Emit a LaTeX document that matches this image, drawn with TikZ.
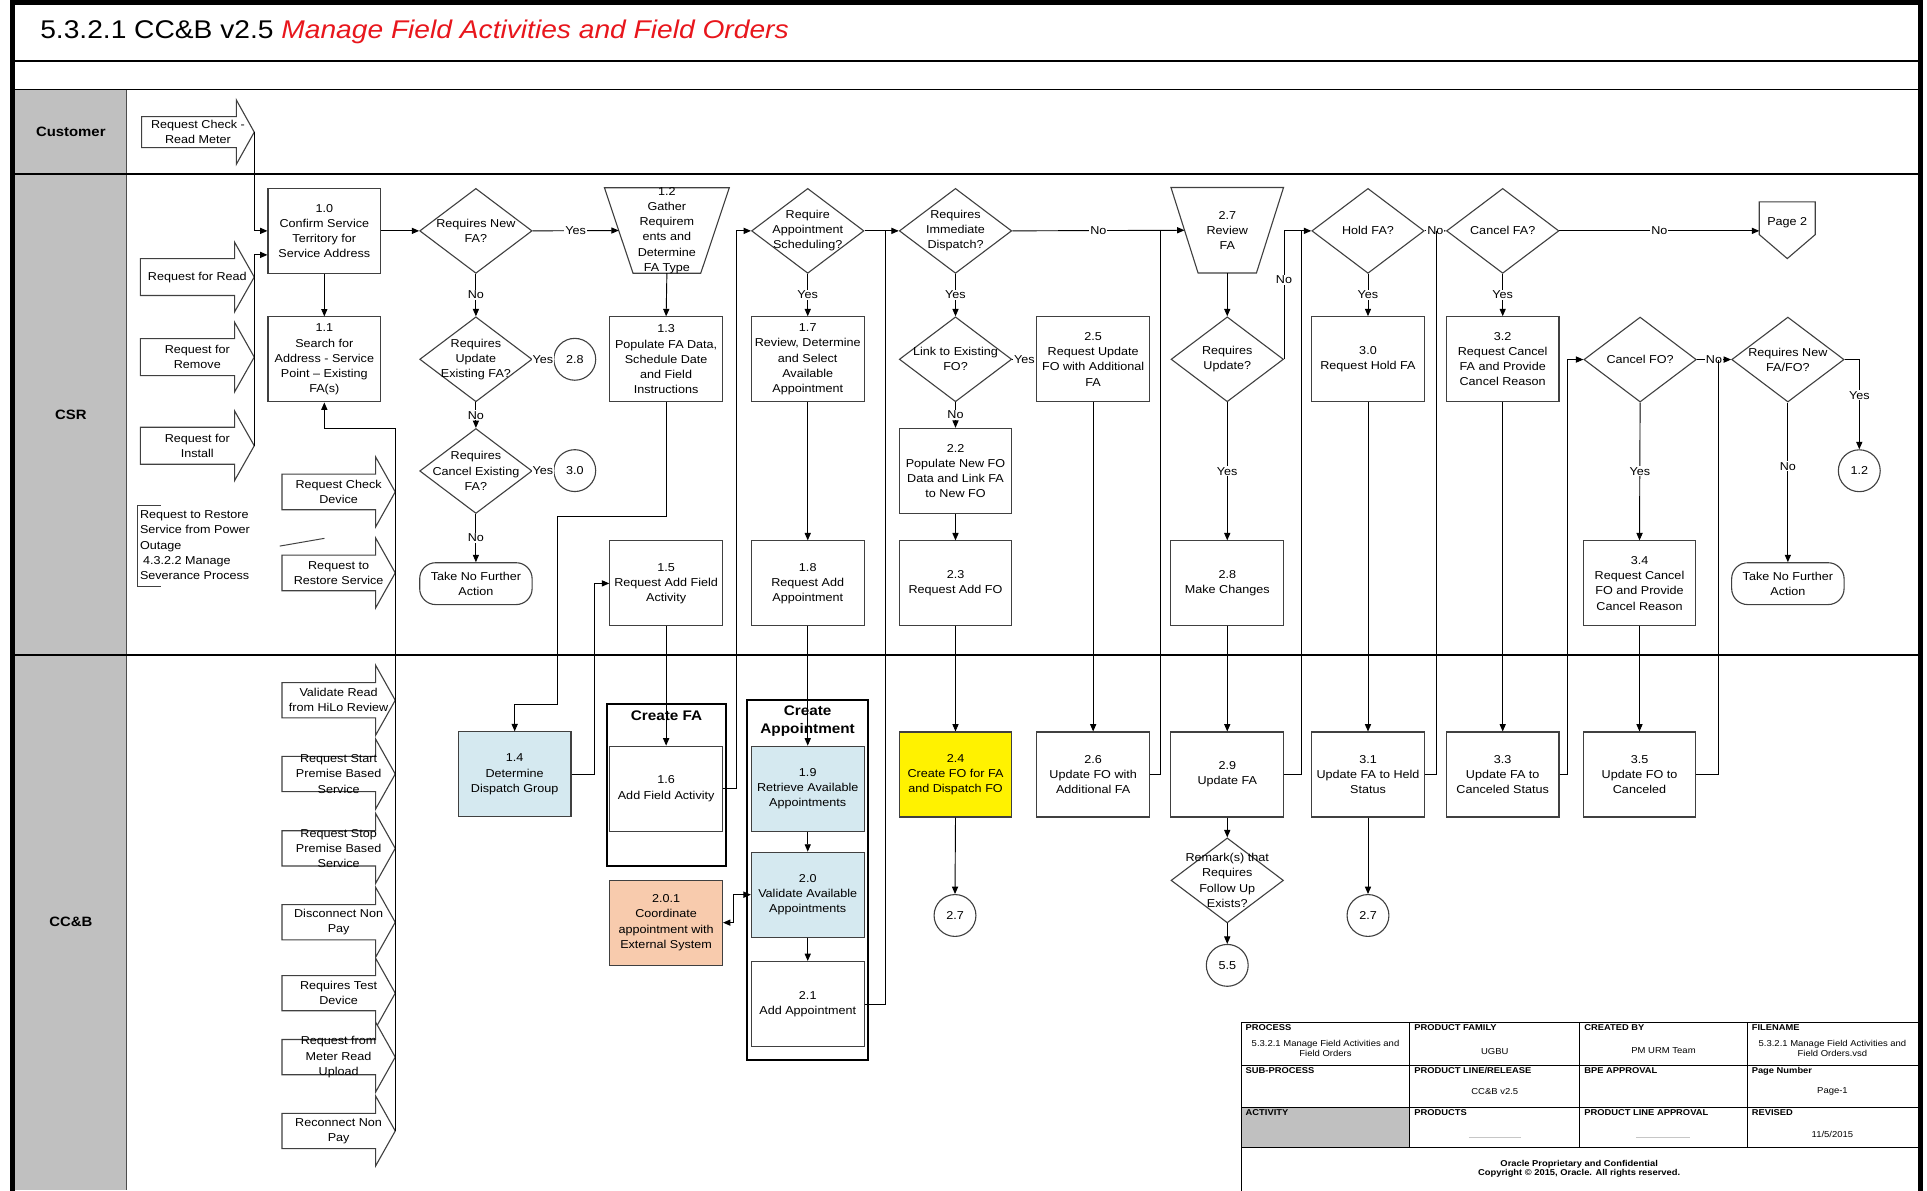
\documentclass[tikz,border=0pt]{standalone}
\usepackage{fontspec}
\setmainfont{Liberation Sans}[FakeStretch=1.1]
\usetikzlibrary{shapes.geometric,arrows.meta,calc}

\definecolor{lanegray}{RGB}{192,192,192}
\definecolor{boxline}{RGB}{64,64,64}
\definecolor{ltblue}{RGB}{213,233,240}
\definecolor{peach}{RGB}{248,203,173}
\definecolor{titlered}{RGB}{232,22,28}

\newcommand{\boxfnt}{\fontsize{9.3}{12.3}\selectfont}
\newcommand{\titlefnt}{\fontsize{20.8}{25}\selectfont}
\newcommand{\lanefnt}{\fontsize{11}{13}\selectfont\bfseries}
\newcommand{\grpfnt}{\fontsize{11.3}{15.4}\selectfont\bfseries}
\newcommand{\theadfnt}{\fontsize{6.9}{8}\selectfont\bfseries}
\newcommand{\tcellfnt}{\fontsize{7}{8.2}\selectfont}
\newcommand{\tfootfnt}{\fontsize{6.9}{7.4}\selectfont\bfseries}

% name, x1, x2, xtip, y, body half height, head half height, text
\newcommand{\blockarr}[8]{%
  \draw[barrow] (#2,#5-#6) -- (#3,#5-#6) -- (#3,#5-#7) -- (#4,#5) -- (#3,#5+#7) -- (#3,#5+#6) -- (#2,#5+#6) -- cycle;
  \node[btxt] (#1) at ({(#2+#4)/2},#5) {#8};
  \coordinate (#1tip) at (#4,#5);
}

\begin{document}
\begin{tikzpicture}[x=1pt,y=-1pt,
  shapeline/.style={draw=boxline, line width=0.9pt},
  pbox/.style={shapeline, fill=white, minimum width=91.5pt, minimum height=69pt, inner sep=1pt, align=center, font=\boxfnt},
  dia/.style={shapeline, fill=white, diamond, minimum width=91.3pt, minimum height=69pt, inner sep=0pt},
  dtxt/.style={align=center, font=\boxfnt, inner sep=0pt},
  circ/.style={shapeline, fill=white, circle, minimum size=34pt, inner sep=0pt, font=\boxfnt},
  term/.style={shapeline, fill=white, rounded corners=13pt, minimum width=91.3pt, minimum height=34pt, inner sep=0pt, align=center, font=\boxfnt},
  trapbox/.style={minimum height=69pt, inner sep=0pt},
  conn/.style={draw=black, line width=0.75pt},
  arr/.style={conn, -{Triangle[length=6pt,width=5pt]}},
  arrboth/.style={conn, {Triangle[length=6pt,width=5pt]}-{Triangle[length=6pt,width=5pt]}},
  lbl/.style={fill=white, inner sep=0.8pt, font=\boxfnt},
  barrow/.style={shapeline, fill=white},
  btxt/.style={align=center, font=\boxfnt, inner sep=0pt},
  grp/.style={draw=black, line width=1.8pt},
  grptitle/.style={font=\grpfnt, align=center, inner sep=0pt},
  lanelbl/.style={font=\lanefnt, inner sep=0pt},
  thead/.style={font=\theadfnt, anchor=north west, inner sep=0pt},
  tcell/.style={font=\tcellfnt, align=center, inner sep=0pt},
  tline/.style={draw=black, line width=0.8pt},
]
\useasboundingbox (0,0) rectangle (1565,966.5);

% ---------- frame and lanes ----------
\fill[lanegray] (12.4,72.7) rectangle (103,966.5);
\draw[gray!60!black, line width=0.8pt] (103,72.7) -- (103,966.5);
\draw[line width=1pt] (12,49.6) -- (1557.4,49.6);
\draw[line width=1pt] (12,72.7) -- (1557.4,72.7);
\draw[line width=1.3pt] (12,141.3) -- (1557.4,141.3);
\draw[line width=1.3pt] (12,531.8) -- (1557.4,531.8);
\draw[line width=4.5pt] (10.2,970) -- (10.2,2.2) -- (1559.7,2.2) -- (1559.7,970);

\node[anchor=base west, font=\titlefnt, inner sep=0pt] (title) at (32.5,31)
  {5.3.2.1 CC\&B v2.5 \textcolor{titlered}{\itshape Manage Field Activities and Field Orders}};

\node[lanelbl] (lcust) at (57.5,107) {Customer};
\node[lanelbl] (lcsr) at (57.5,336.5) {CSR};
\node[lanelbl] (lccb) at (57.5,749) {CC\&B};

% ---------- block arrows ----------
\blockarr{bCust}{115}{192}{206.5}{107.3}{12.6}{26}{Request Check -\\Read Meter}
\blockarr{bRead}{114}{190.5}{206.5}{225}{15}{28.3}{Request for Read}
\blockarr{bRemove}{114}{190.5}{206.5}{290}{15}{28.3}{Request for\\Remove}
\blockarr{bInstall}{114}{190.5}{206.5}{362}{15}{28.3}{Request for\\Install}
\blockarr{bChk}{229}{305}{321}{399.5}{14.5}{28.5}{Request Check\\Device}
\blockarr{bRestore}{229}{305}{321}{465.3}{14.5}{28.5}{Request to\\Restore Service}
\blockarr{bValid}{229}{305}{321}{568.7}{14.3}{28.5}{Validate Read\\from HiLo Review}
\blockarr{bStart}{229}{305}{321}{628.6}{14.3}{28.5}{Request Start\\Premise Based\\Service}
\blockarr{bStop}{229}{305}{321}{689}{14.3}{28.5}{Request Stop\\Premise Based\\Service}
\blockarr{bDisc}{229}{305}{321}{749}{14.3}{28.5}{Disconnect Non\\Pay}
\blockarr{bTest}{229}{305}{321}{806.6}{14.3}{28.5}{Requires Test\\Device}
\blockarr{bMeter}{229}{305}{321}{858.5}{14.3}{28.5}{Request from\\Meter Read\\Upload}
\blockarr{bRecon}{229}{305}{321}{918.5}{14.3}{28.5}{Reconnect Non\\Pay}

% annotation
\draw[boxline, line width=0.8pt] (130.5,410.2) -- (111.7,410.2) -- (111.7,476.6) -- (130.5,476.6);
\node[font=\boxfnt, align=left, anchor=west, inner sep=0pt] (note) at (113.5,442.8)
  {Request to Restore\\Service from Power\\Outage\\\hspace*{2.5pt}4.3.2.2 Manage\\Severance Process};
\draw[boxline, line width=0.8pt] (227.2,443.5) -- (263.5,437.2);

% ---------- CSR lane ----------
\node[pbox] (n10) at (263.4,187.5) {1.0\\Confirm Service\\Territory for\\Service Address};
\node[pbox] (n11) at (263.4,291.9) {1.1\\Search for\\Address - Service\\Point – Existing\\FA(s)};

\node[dia] (d1) at (386.5,187.5) {};
\node[dtxt] (d1t) at (d1.center) {Requires New\\FA?};
\node[dia] (d2) at (386.5,291.8) {};
\node[dtxt] (d2t) at (d2.center) {Requires\\Update\\Existing FA?};
\node[dia] (d3) at (386.5,382.5) {};
\node[dtxt] (d3t) at (d3.center) {Requires\\Cancel Existing\\FA?};
\node[circ] (c28) at (466.8,291.8) {2.8};
\node[circ] (c30) at (466.8,382.2) {3.0};
\node[term] (tn1) at (386.5,474) {Take No Further\\Action};

% 1.2 trapezoid
\node[trapbox, minimum width=77.8pt] (t12) at (541.6,187.2) {};
\draw[shapeline, fill=white] ($(t12.north west)+(-11.6,0)$) -- ($(t12.north east)+(11.6,0)$)
  -- ($(t12.south east)+(-11.6,0)$) -- ($(t12.south west)+(11.6,0)$) -- cycle;
\node[dtxt] (t12t) at (t12.center) {1.2\\Gather\\Requirem\\ents and\\Determine\\FA Type};

\node[pbox] (n13) at (541,291.8) {1.3\\Populate FA Data,\\Schedule Date\\and Field\\Instructions};
\node[pbox] (n15) at (541,473.8) {1.5\\Request Add Field\\Activity};

\node[dia] (d4) at (656,187.5) {};
\node[dtxt] (d4t) at (d4.center) {Require\\Appointment\\Scheduling?};
\node[pbox] (n17) at (656,291.8) {1.7\\Review, Determine\\and Select\\Available\\Appointment};
\node[pbox] (n18) at (656,473.8) {1.8\\Request Add\\Appointment};

\node[dia] (d5) at (776,187.5) {};
\node[dtxt] (d5t) at (d5.center) {Requires\\Immediate\\Dispatch?};
\node[dia] (d6) at (776,291.8) {};
\node[dtxt] (d6t) at (d6.center) {Link to Existing\\FO?};
\node[pbox] (n22) at (776,382.4) {2.2\\Populate New FO\\Data and Link FA\\to New FO};
\node[pbox] (n23) at (776,473.8) {2.3\\Request Add FO};
\node[pbox] (n25) at (887.8,291.8) {2.5\\Request Update\\FO with Additional\\FA};

% 2.7 trapezoid
\node[trapbox, minimum width=69pt] (t27) at (996.7,187) {};
\draw[shapeline, fill=white] ($(t27.north west)+(-11,0)$) -- ($(t27.north east)+(11,0)$)
  -- ($(t27.south east)+(-11,0)$) -- ($(t27.south west)+(11,0)$) -- cycle;
\node[dtxt] (t27t) at (t27.center) {2.7\\Review\\FA};

\node[dia] (d7) at (996.7,291.8) {};
\node[dtxt] (d7t) at (d7.center) {Requires\\Update?};
\node[pbox] (n28) at (996.7,473.8) {2.8\\Make Changes};

\node[dia] (d8) at (1111,187.5) {};
\node[dtxt] (d8t) at (d8.center) {Hold FA?};
\node[pbox] (n30) at (1111,291.7) {3.0\\Request Hold FA};
\node[dia] (d10) at (1220.4,187.5) {};
\node[dtxt] (d10t) at (d10.center) {Cancel FA?};
\node[pbox] (n32) at (1220.4,291.7) {3.2\\Request Cancel\\FA and Provide\\Cancel Reason};

% Page 2 off-page connector
\coordinate (pg2) at (1451.5,164);
\draw[shapeline, fill=white] ($(pg2)+(-22.75,0)$) -- ($(pg2)+(22.75,0)$) -- ($(pg2)+(22.75,26.5)$)
  -- ($(pg2)+(0,46)$) -- ($(pg2)+(-22.75,26.5)$) -- cycle;
\node[dtxt] (pg2t) at (1451.5,181) {Page 2};
\coordinate (pg2w) at (1428.75,187.5);

\node[dia] (d11) at (1332,292) {};
\node[dtxt] (d11t) at (d11.center) {Cancel FO?};
\node[pbox] (n34) at (1331.5,473.8) {3.4\\Request Cancel\\FO and Provide\\Cancel Reason};
\node[dia] (d12) at (1452,292) {};
\node[dtxt] (d12t) at (d12.center) {Requires New\\FA/FO?};
\node[circ] (c12) at (1510,382.3) {1.2};
\node[term] (tn2) at (1452,474) {Take No Further\\Action};

% ---------- CC&B lane ----------
\node[pbox, fill=ltblue] (n14) at (418,628.9) {1.4\\Determine\\Dispatch Group};

\draw[grp] (493,571.5) rectangle (589.5,703);
\node[grptitle] (gfa) at (541.3,581.4) {Create FA};
\node[pbox] (n16) at (541,640.5) {1.6\\Add Field Activity};
\node[pbox, fill=peach] (n201) at (541,749.3) {2.0.1\\Coordinate\\appointment with\\External System};

\draw[grp] (606.9,568.8) rectangle (704.8,861.1);
\node[grptitle] (gap) at (655.9,585.6) {Create\\Appointment};
\node[pbox, fill=ltblue] (n19) at (656,640.5) {1.9\\Retrieve Available\\Appointments};
\node[pbox, fill=ltblue] (n20) at (656,726.6) {2.0\\Validate Available\\Appointments};
\node[pbox] (n21) at (656,815.4) {2.1\\Add Appointment};

\node[pbox, fill=yellow] (n24) at (776,629) {2.4\\Create FO for FA\\and Dispatch FO};
\node[circ] (c27a) at (775.6,743.5) {2.7};
\node[pbox] (n26) at (887.8,629) {2.6\\Update FO with\\Additional FA};
\node[pbox] (n29) at (996.7,629) {2.9\\Update FA};
\node[dia] (d9) at (996.7,715) {};
\node[dtxt] (d9t) at (d9.center) {Remark(s) that\\Requires\\Follow Up\\Exists?};
\node[circ] (c55) at (996.7,784) {5.5};
\node[pbox] (n31) at (1111,629) {3.1\\Update FA to Held\\Status};
\node[circ] (c27b) at (1111,743.5) {2.7};
\node[pbox] (n33) at (1220.4,629) {3.3\\Update FA to\\Canceled Status};
\node[pbox] (n35) at (1331.5,629) {3.5\\Update FO to\\Canceled};

% ---------- connectors ----------
\draw[arr] (bCusttip) |- (n10.west);
\draw[arr] (bInstalltip) |- ([yshift=-19.5pt]n10.west);
\draw[arr] (bRecontip) -- ++(0,-570.7) -| (n11.south);

\draw[arr] (n10.south) -- (n11.north);
\draw[arr] (n10.east) -- (d1.west);
\draw[arr] (d1.east) -- node[lbl]{Yes} (t12.west);
\draw[arr] (d1.south) -- node[lbl]{No} (d2.north);
\draw[conn] (d2.east) -- node[lbl]{Yes} (c28.west);
\draw[arr] (d2.south) -- node[lbl]{No} (d3.north);
\draw[conn] (d3.east) -- node[lbl]{Yes} (c30.west);
\draw[arr] (d3.south) -- node[lbl]{No} (tn1.north);

\draw[arr] (t12.south) -- (n13.north);
\draw[arr] (n13.south) |- (452.6,419.6) |- (418,571.8) -- (n14.north);
\draw[arr] (n14.east) -- ++(18.2,0) |- (n15.west);
\draw[arr] (n15.south) -- (n16.north);
\draw[arr] (n16.east) -- ++(10.8,0) |- (d4.west);

\draw[arr] (d4.south) -- node[lbl]{Yes} (n17.north);
\draw[arr] (n17.south) -- (n18.north);
\draw[arr] (n18.south) -- (n19.north);
\draw[arr] (n19.south) -- (n20.north);
\draw[arr] (n20.south) -- (n21.north);
\draw[arrboth] (n201.east) -- ++(8.5,0) |- (n20.west);
\draw[arr] (d4.east) -- (d5.west);
\draw[conn] (n21.east) -| (719.3,187.5);

\draw[arr] (d5.east) -- node[lbl]{No} (t27.west);
\draw[conn] (n26.east) -| (942.4,187.5);
\draw[arr] (d5.south) -- node[lbl]{Yes} (d6.north);
\draw[conn] (d6.east) -- node[lbl]{Yes} (n25.west);
\draw[arr] (d6.south) -- node[lbl]{No} (n22.north);
\draw[arr] (n22.south) -- (n23.north);
\draw[arr] (n23.south) -- (n24.north);
\draw[arr] (n24.south) -- (c27a.north);
\draw[arr] (n25.south) -- (n26.north);

\draw[arr] (t27.south) -- (d7.north);
\draw[arr] (d7.south) -- node[lbl]{Yes} (n28.north);
\draw[arr] (d7.east) |- node[lbl, pos=0.31]{No} (d8.west);
\draw[conn] (n29.east) -| (1057,187.5);
\draw[arr] (n28.south) -- (n29.north);
\draw[arr] (n29.south) -- (d9.north);
\draw[arr] (d9.south) -- (c55.north);

\draw[arr] (d8.south) -- node[lbl]{Yes} (n30.north);
\draw[arr] (d8.east) -- node[lbl]{No} (d10.west);
\draw[conn] (n31.east) -| (1166.6,187.5);
\draw[arr] (n30.south) -- (n31.north);
\draw[arr] (n31.south) -- (c27b.north);

\draw[arr] (d10.south) -- node[lbl]{Yes} (n32.north);
\draw[arr] (d10.east) -- node[lbl]{No} (d10.east -| pg2w);
\draw[arr] (n32.south) -- (n33.north);
\draw[arr] (n33.east) -- ++(6.6,0) |- (d11.west);

\draw[arr] (d11.south) -- node[lbl]{Yes} (n34.north);
\draw[arr] (d11.east) -- node[lbl]{No} (d12.west);
\draw[conn] (n35.east) -| (1395.4,292);
\draw[arr] (n34.south) -- (n35.north);
\draw[arr] (d12.south) -- node[lbl, pos=0.4]{No} (tn2.north);
\draw[arr] (d12.east) -| node[lbl, pos=0.7]{Yes} (c12.north);

% ---------- title block ----------
\fill[lanegray] (1008,899.5) rectangle (1145,932);
\draw[tline] (1008,970) -- (1008,830) -- (1557.4,830);
\draw[tline] (1008,865.3) -- (1557.4,865.3) (1008,899.5) -- (1557.4,899.5) (1008,932) -- (1557.4,932);
\draw[tline] (1145,830) -- (1145,932) (1283,830) -- (1283,932) (1419,830) -- (1419,932);

\node[thead] (h1) at (1011.5,831.8) {PROCESS};
\node[thead] (h2) at (1148.5,831.8) {PRODUCT FAMILY};
\node[thead] (h3) at (1286.5,831.8) {CREATED BY};
\node[thead] (h4) at (1422.5,831.8) {FILENAME};
\node[thead] (h5) at (1011.5,867) {SUB-PROCESS};
\node[thead] (h6) at (1148.5,867) {PRODUCT LINE/RELEASE};
\node[thead] (h7) at (1286.5,867) {BPE APPROVAL};
\node[thead] (h8) at (1422.5,867) {Page Number};
\node[thead] (h9) at (1011.5,901.3) {ACTIVITY};
\node[thead] (h10) at (1148.5,901.3) {PRODUCTS};
\node[thead] (h11) at (1286.5,901.3) {PRODUCT LINE APPROVAL};
\node[thead] (h12) at (1422.5,901.3) {REVISED};

\node[tcell] (v1) at (1076.5,851.4) {5.3.2.1 Manage Field Activities and\\Field Orders};
\node[tcell] (v2) at (1214,854) {UGBU};
\node[tcell] (v3) at (1351,853.5) {PM URM Team};
\node[tcell] (v4) at (1488.2,851.4) {5.3.2.1 Manage Field Activities and\\Field Orders.vsd};
\node[tcell] (v5) at (1214,886.5) {CC\&B v2.5};
\node[tcell] (v6) at (1488.2,886.5) {Page-1};
\node[tcell] (v7) at (1488.2,921.6) {11/5/2015};
\draw[gray!45, line width=0.6pt] (1193,923.5) -- (1235,923.5);
\draw[gray!45, line width=0.6pt] (1329,923.5) -- (1372.5,923.5);
\node[tcell, font=\tfootfnt] (v8) at (1282.5,949.2) {Oracle Proprietary and Confidential\\Copyright © 2015, Oracle. All rights reserved.};
\end{tikzpicture}
\end{document}
